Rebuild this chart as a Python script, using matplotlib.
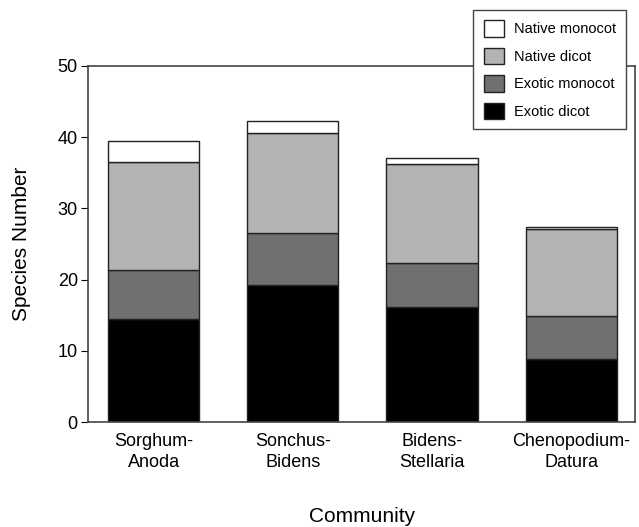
import numpy as np
import matplotlib.pyplot as plt

plt.rcParams['font.family'] = ['Liberation Sans', 'DejaVu Sans']

communities = ['Sorghum-\nAnoda', 'Sonchus-\nBidens', 'Bidens-\nStellaria', 'Chenopodium-\nDatura']
exotic_dicot = [14.5, 19.2, 16.1, 8.9]
exotic_monocot = [6.8, 7.4, 6.2, 6.0]
native_dicot = [15.2, 14.0, 13.9, 12.2]
native_monocot = [2.9, 1.7, 0.9, 0.3]

series = [
    ('Exotic dicot', exotic_dicot, '#000000'),
    ('Exotic monocot', exotic_monocot, '#707070'),
    ('Native dicot', native_dicot, '#b3b3b3'),
    ('Native monocot', native_monocot, '#ffffff'),
]

fig = plt.figure(figsize=(6.39, 5.27), dpi=100)
ax = fig.add_axes([0.138, 0.199, 0.856, 0.676])

x = np.arange(len(communities))
bottom = np.zeros(len(communities))
handles = []
for name, vals, col in series:
    b = ax.bar(x, vals, 0.655, bottom=bottom, color=col, edgecolor='#222222',
               linewidth=1.0, label=name)
    handles.append(b)
    bottom += np.array(vals)

ax.set_xlim(-0.47, 3.46)
ax.set_ylim(0, 50)
ax.set_yticks([0, 10, 20, 30, 40, 50])
ax.set_xticks(x)
ax.set_xticklabels(communities, fontsize=13, linespacing=1.3)
ax.tick_params(axis='x', length=0, pad=8)
ax.tick_params(axis='y', labelsize=13, length=5, pad=2.5, direction='out')
ax.set_ylabel('Species Number', fontsize=15, labelpad=19)
ax.set_xlabel('Community', fontsize=15, labelpad=26)
for s in ax.spines.values():
    s.set_color('#444444')
    s.set_linewidth(1.2)

leg = ax.legend(handles[::-1], [h.get_label() for h in handles[::-1]],
                loc='upper right', bbox_to_anchor=(0.9835, 1.157),
                borderaxespad=0, fontsize=10.5, frameon=True, fancybox=False,
                edgecolor='#444444', handlelength=1.37, handleheight=1.37,
                labelspacing=0.75, borderpad=0.7, handletextpad=0.7)
leg.get_frame().set_linewidth(1.0)
leg.get_frame().set_alpha(1)

fig.savefig('out.png', dpi=100)
